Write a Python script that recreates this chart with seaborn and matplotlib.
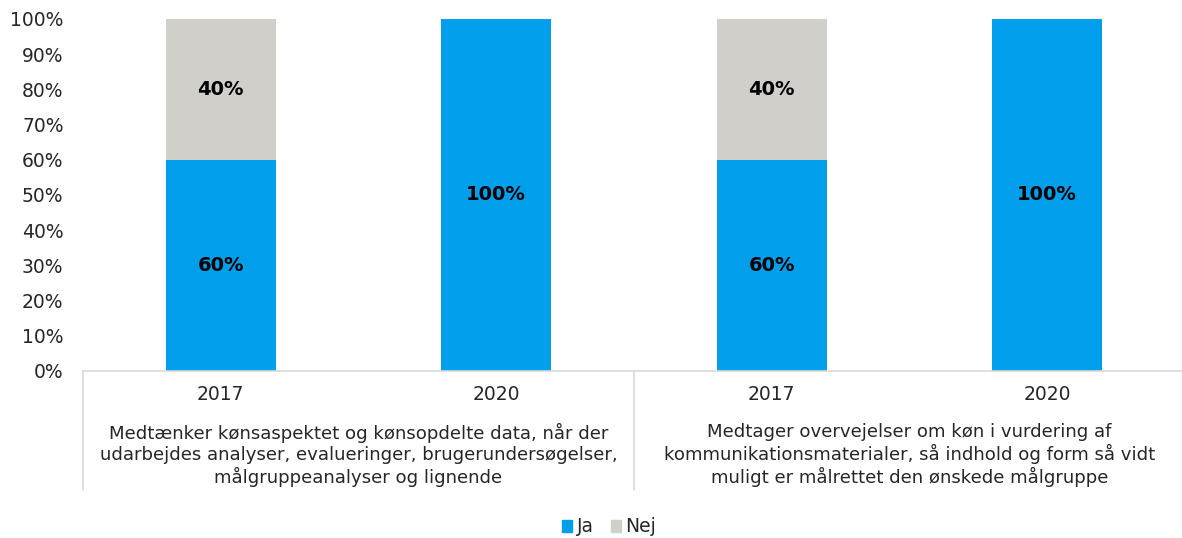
import numpy as np
import pandas as pd
import matplotlib
matplotlib.use("Agg")
import matplotlib.pyplot as plt
import matplotlib.patches as mpatches
import seaborn as sns

groups = [
    "Medtænker kønsaspektet og kønsopdelte data, når der\nudarbejdes analyser, evalueringer, brugerundersøgelser,\nmålgruppeanalyser og lignende",
    "Medtager overvejelser om køn i vurdering af\nkommunikationsmaterialer, så indhold og form så vidt\nmuligt er målrettet den ønskede målgruppe",
]
years = ["2017", "2020", "2017", "2020"]
ja = [60, 100, 60, 100]
nej = [40, 0, 40, 0]

blue = "#009FEC"
grey = "#D0CFCA"

df = pd.DataFrame({"bar": ["b0", "b1", "b2", "b3"], "Ja": ja, "Nej": nej})
df["total"] = df["Ja"] + df["Nej"]

sns.set_style("white")
plt.rcParams["font.family"] = ["DejaVu Sans"]

fig = plt.figure(figsize=(11.82, 5.38), dpi=100)
ax = fig.add_axes([83 / 1182, 167 / 538, 1102 / 1182, 352 / 538])

# stacked: grey totals underneath, blue "Ja" on top
sns.barplot(data=df, x="bar", y="total", color=grey, width=0.4, ax=ax, saturation=1, linewidth=0)
sns.barplot(data=df, x="bar", y="Ja", color=blue, width=0.4, ax=ax, saturation=1, linewidth=0)

for i, row in df.iterrows():
    ax.text(i, row["Ja"] / 2, f"{row['Ja']}%", ha="center", va="center",
            fontsize=14, fontweight="bold", color="black")
    if row["Nej"] > 0:
        ax.text(i, row["Ja"] + row["Nej"] / 2, f"{row['Nej']}%", ha="center", va="center",
                fontsize=14, fontweight="bold", color="black")

ax.set_xlim(-0.5, 3.5)
ax.set_ylim(0, 100)
ax.set_yticks(range(0, 101, 10))
ax.set_yticklabels([f"{v}%" for v in range(0, 101, 10)], fontsize=13.5)
ax.tick_params(axis="y", length=0, pad=14)
ax.set_xticks(range(4))
ax.set_xticklabels(years, fontsize=13.5)
ax.tick_params(axis="x", length=0, pad=10)
ax.set_xlabel("")
ax.set_ylabel("")

for s in ["top", "right", "left"]:
    ax.spines[s].set_visible(False)
ax.spines["bottom"].set_color("#D9D9D9")
ax.spines["bottom"].set_linewidth(1.2)

# group labels and separators
trans = ax.get_xaxis_transform()
for gi, g in enumerate(groups):
    ax.text(gi * 2 + 0.5, -0.2386, g, transform=trans, ha="center", va="center",
            fontsize=13.1, linespacing=1.2)
for xs in [-0.5, 1.5, 3.5]:
    ax.plot([xs, xs], [0, -0.338], transform=trans, color="#D9D9D9", lw=1.2, clip_on=False)

handles = [mpatches.Patch(color=blue, label="Ja"), mpatches.Patch(color=grey, label="Nej")]
fig.legend(handles=handles, loc="center", bbox_to_anchor=(609 / 1182, 1 - 527 / 538), ncol=2,
           frameon=False, fontsize=13.5, handlelength=0.55, handleheight=0.55,
           handletextpad=0.25, columnspacing=0.9, borderpad=0)

fig.savefig("out.png", dpi=100)
